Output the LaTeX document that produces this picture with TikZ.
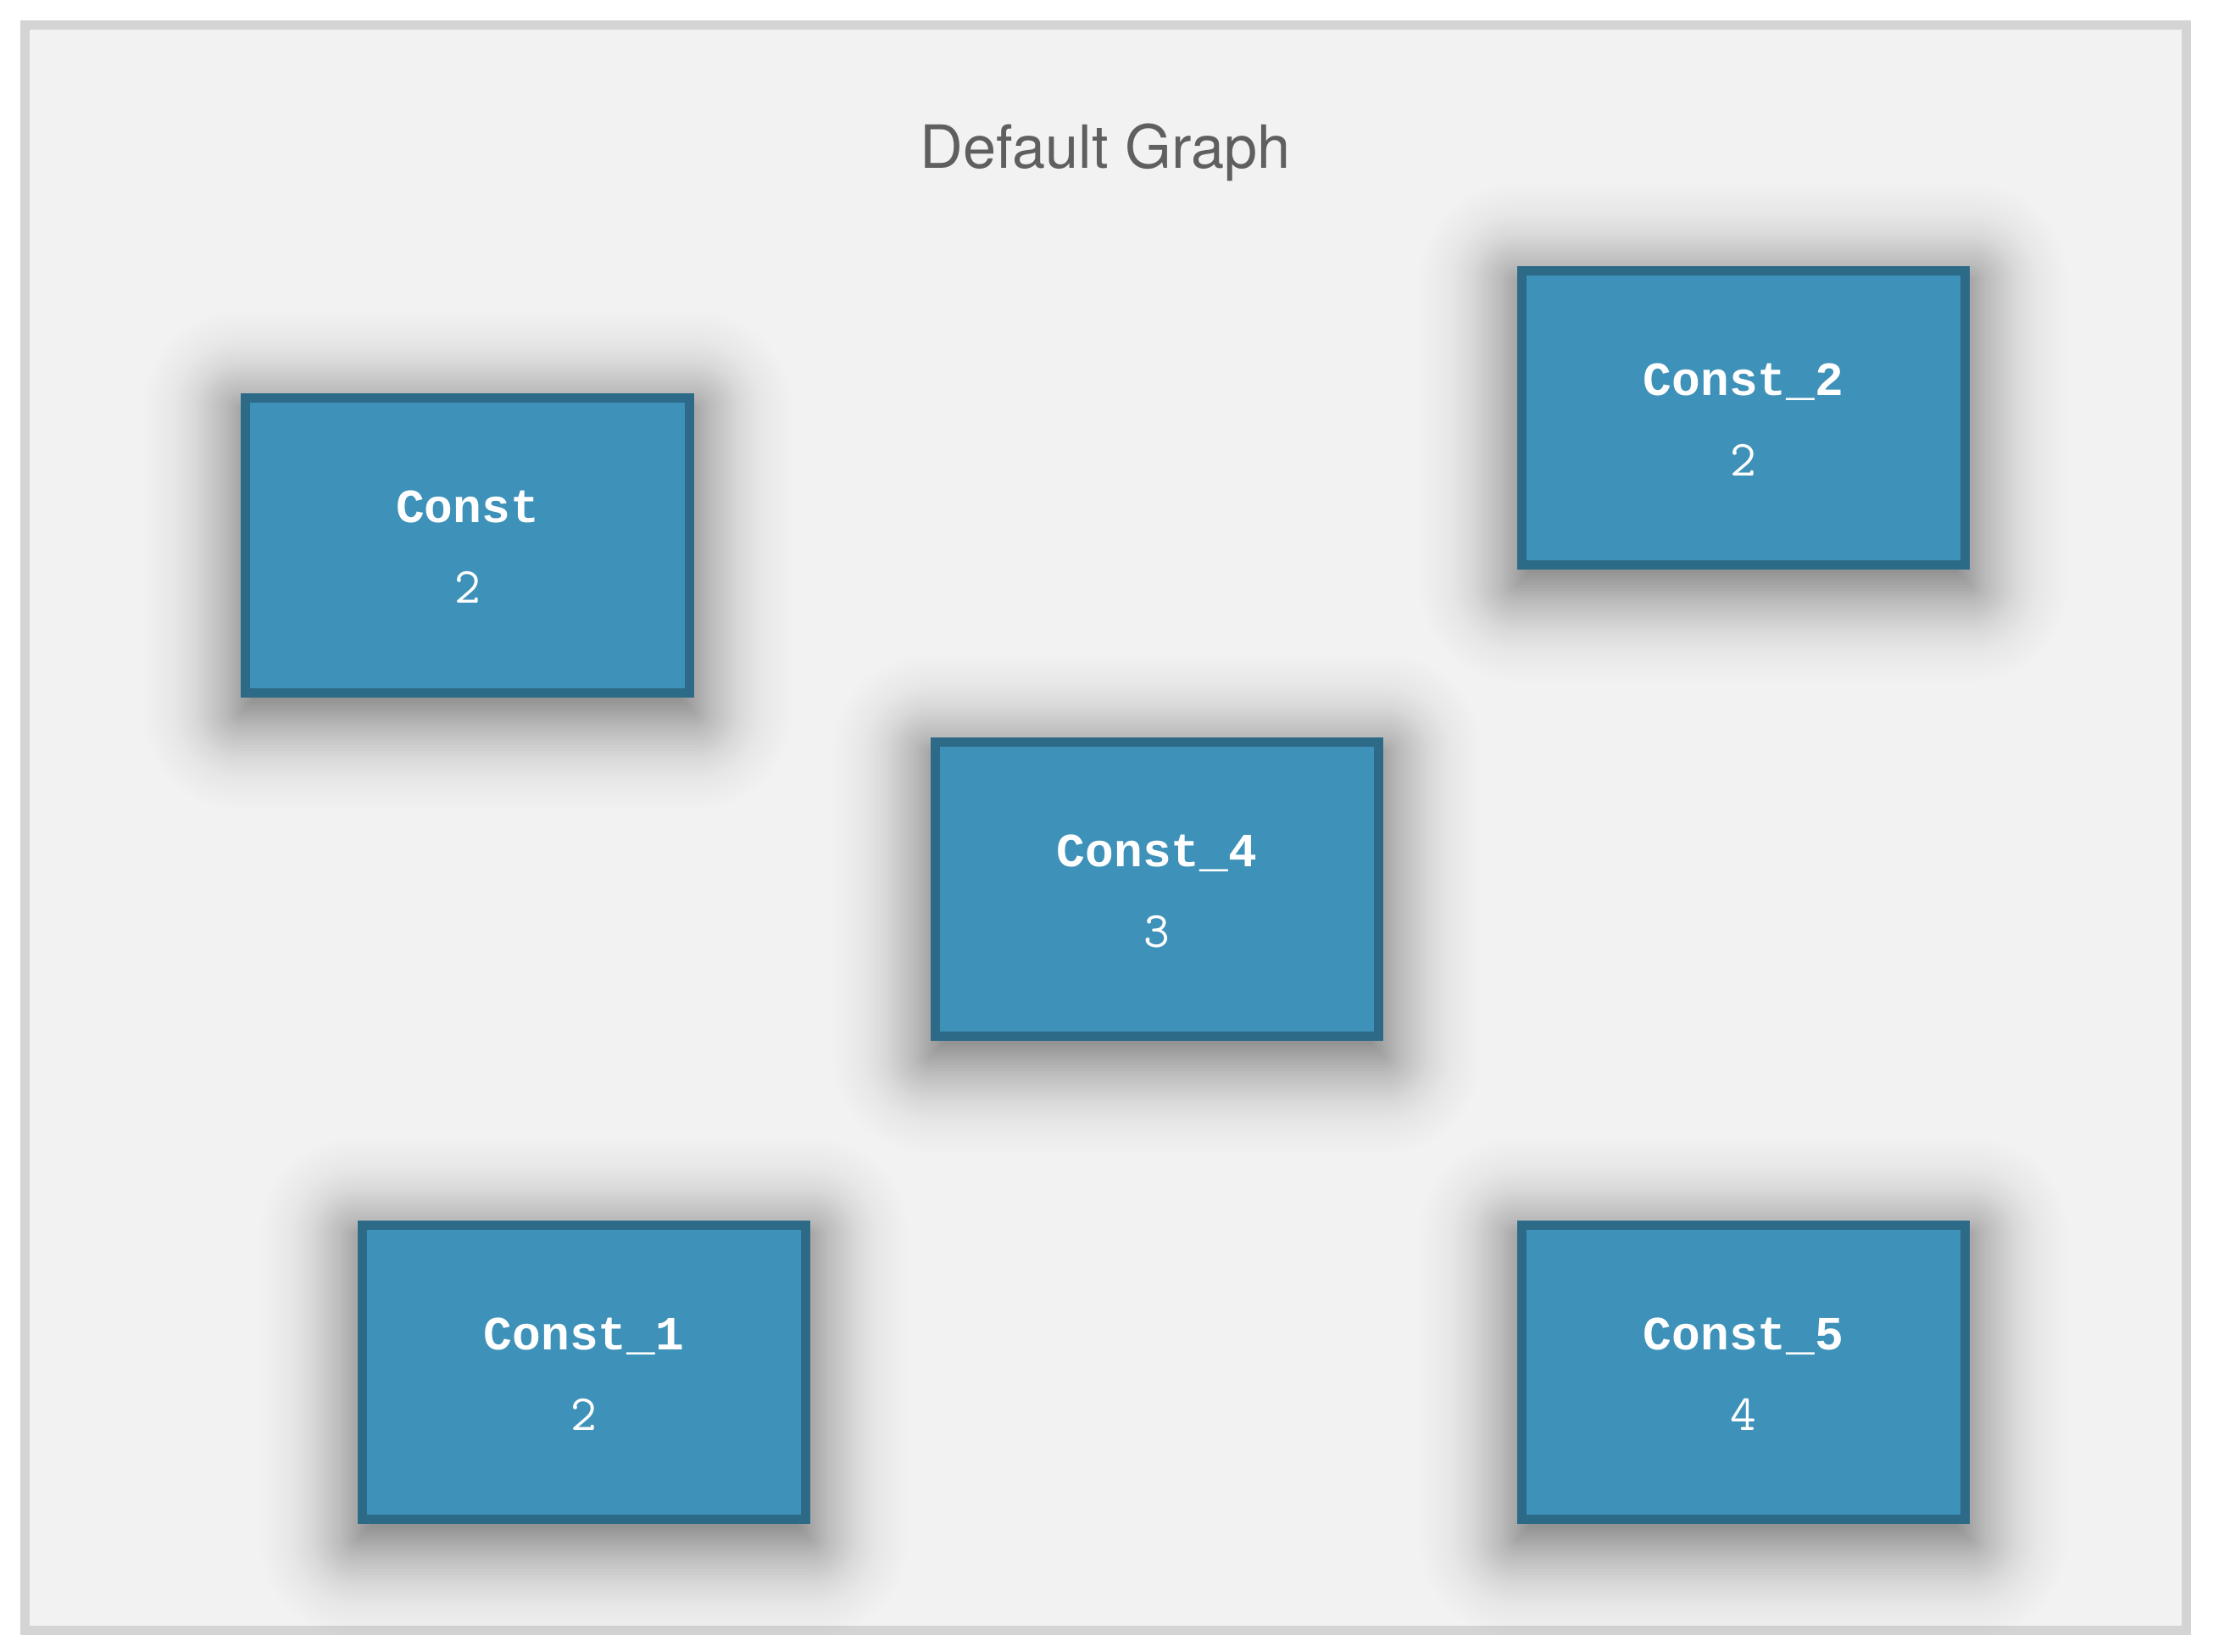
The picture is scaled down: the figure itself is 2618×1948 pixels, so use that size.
\documentclass[tikz,border=0pt]{standalone}
\usepackage{fontspec}
\setmainfont{TeX Gyre Heros}
\newfontfamily\opfont{Liberation Mono}
\definecolor{graphbg}{HTML}{F2F2F2}
\definecolor{graphframe}{HTML}{D4D4D4}
\definecolor{opfill}{HTML}{3E91B8}
\definecolor{opdraw}{HTML}{2C6A88}
\definecolor{titlegray}{HTML}{5F5F5F}
\pgfdeclarelayer{frame}
\pgfdeclarelayer{shade}
\pgfsetlayers{frame,shade,main}
\begin{document}
\begin{tikzpicture}[
 x=0.01cm,
 y=-0.01cm,
 opbox/.style={rectangle, draw=opdraw, fill=opfill, line width=3.1pt,
  minimum width=5.23cm, minimum height=3.47cm, inner sep=0pt},
 opname/.style={anchor=base, text=white, inner sep=0pt,
  font=\opfont\bfseries\fontsize{16}{19}\selectfont},
 opvalue/.style={anchor=base, text=white, inner sep=0pt,
  font=\ttfamily\fontsize{17}{20}\selectfont}
]
\useasboundingbox (0,0) rectangle (2618,1948);
\begin{pgfonlayer}{frame}
\fill[white] (0,0) rectangle (2618,1948);
\draw[graphframe, fill=graphbg, line width=3.1pt] (29.5,29.5) rectangle (2579.5,1923.5);
\end{pgfonlayer}
\node[anchor=base, text=titlegray, inner sep=0pt, font=\fontsize{20}{24}\selectfont] (title) at (1304,198) {Default Graph};
% Const
\node[opbox] (const) at (551.5,643.5) {};
\node[opname] (const-name) at (551.5,616.5) {Const};
\node[opvalue] (const-value) at (551.5,711.5) {2};
% Const_2
\node[opbox] (const2) at (2057,493) {};
\node[opname] (const2-name) at (2057,466) {Const\_2};
\node[opvalue] (const2-value) at (2057,561) {2};
% Const_4
\node[opbox] (const4) at (1365,1049) {};
\node[opname] (const4-name) at (1365,1022) {Const\_4};
\node[opvalue] (const4-value) at (1365,1117) {3};
% Const_1
\node[opbox] (const1) at (689,1619) {};
\node[opname] (const1-name) at (689,1592) {Const\_1};
\node[opvalue] (const1-value) at (689,1687) {2};
% Const_5
\node[opbox] (const5) at (2057,1619) {};
\node[opname] (const5-name) at (2057,1592) {Const\_5};
\node[opvalue] (const5-value) at (2057,1687) {4};
% soft shadows
\begin{pgfonlayer}{shade}
\foreach \n in {const,const2,const4,const1,const5}
 \foreach \d [evaluate={\d as \nd using -1*(\d)},
   evaluate={\d as \rc using max(\d,0)},
   evaluate={\d as \al using 0.0145*exp(-0.5*(\d/17)*(\d/17))}] in {-12,...,50}
  \fill[black, fill opacity=\al, rounded corners=\rc pt]
   ([shift={(\nd pt,\d pt)}, yshift=-5pt]\n.north west) rectangle
   ([shift={(\d pt,\nd pt)}, yshift=-5pt]\n.south east);
\end{pgfonlayer}
\end{tikzpicture}
\end{document}
